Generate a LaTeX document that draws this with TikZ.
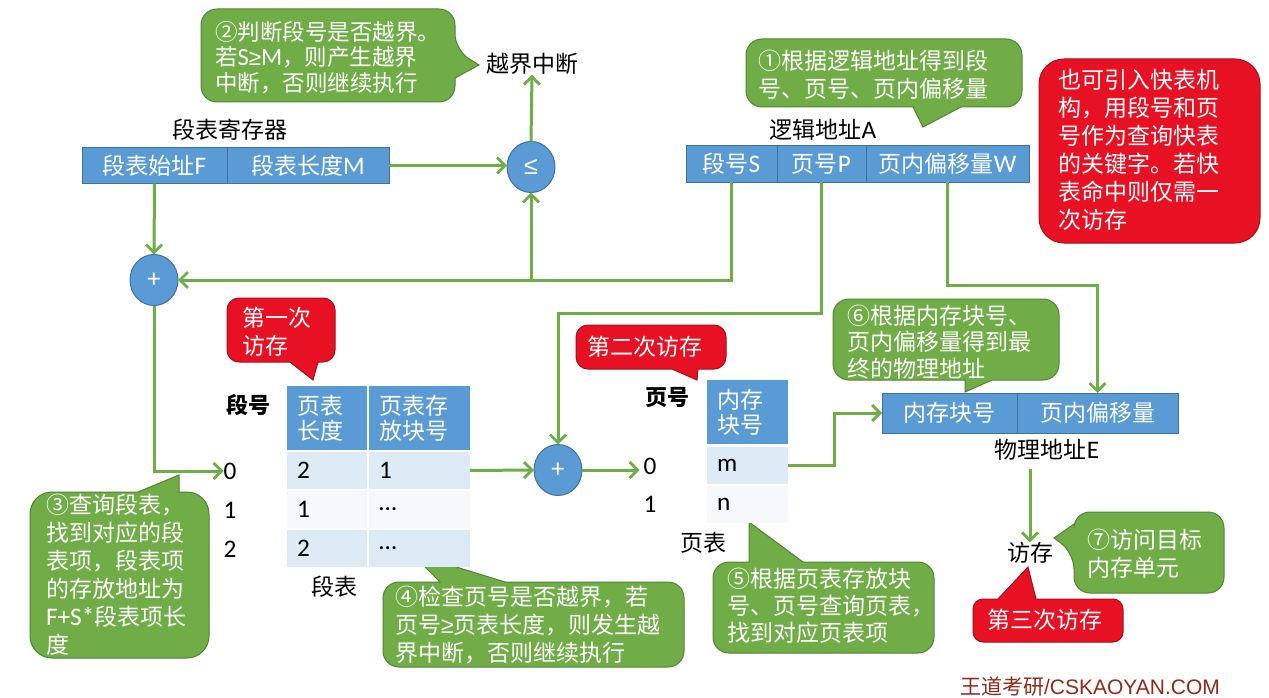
\documentclass[tikz,border=0pt]{standalone}
\usepackage{fontspec}
\setmainfont{Noto Sans CJK SC}
\newfontfamily\wmfont{Liberation Sans}
\newfontfamily\latf[Scale=1.1]{Carlito}
\newcommand\lat[1]{{\latf #1}}
\newcommand\gesym{{\wmfont ≥}}
\usetikzlibrary{arrows.meta,shapes.geometric,calc}
\definecolor{bluef}{HTML}{5B9BD5}
\definecolor{blueb}{HTML}{41719C}
\definecolor{greenf}{HTML}{70AD47}
\definecolor{greenb}{HTML}{548235}
\definecolor{redf}{HTML}{E81123}
\definecolor{redb}{HTML}{A50E1A}
\definecolor{rowa}{HTML}{DDEBF7}
\definecolor{rowb}{HTML}{F5F9FD}
\definecolor{arrg}{HTML}{70AD47}
\definecolor{wmc}{HTML}{8E2B1B}
\newcommand\fsz[2]{\fontsize{#1}{#2}\selectfont}
\begin{document}
\begin{tikzpicture}[x=1pt,y=-1pt,
  every node/.style={inner sep=0pt,outer sep=0pt},
  regbox/.style={draw=blueb,fill=bluef,line width=1,text=white,minimum height=36,font=\fsz{23}{28}},
  opnode/.style={ellipse,draw=blueb,fill=bluef,line width=1,text=white,minimum width=48,minimum height=51,font=\fsz{24}{24}\latf},
  conn/.style={draw=arrg,line width=3,-{Straight Barb[length=8,width=16,line width=2.8]}},
  lbl/.style={text=black,font=\fsz{23}{28}},
  blbl/.style={text=black,font=\fsz{22}{28}\bfseries},
  cellh/.style={fill=bluef,text=white,align=left,inner xsep=10pt,font=\fsz{23}{25}},
  cella/.style={fill=rowa,text=black,align=left,inner xsep=10pt,font=\fsz{23}{25}\latf},
  cellb/.style={fill=rowb,text=black,align=left,inner xsep=10pt,font=\fsz{23}{25}\latf},
  gcall/.style={fill=greenf,draw=greenb,line width=1},
  rcall/.style={fill=redf,draw=redb,line width=1},
  ctext/.style={text=white,align=left,anchor=west,font=\fsz{23}{28}}
]
\useasboundingbox (0,0) rectangle (1269,698);
\fill[white] (0,0) rectangle (1269,698);

% ---------- callout shapes ----------
% (2)
\path[gcall,rounded corners=16] (201,9) -- (455,9) -- (455,50) [sharp corners] -- (479,65) -- (455,78) [rounded corners=16] -- (455,102) -- (201,102) -- cycle;
% (1)
\path[gcall,rounded corners=16] (746,39) -- (1022,39) -- (1022,107) [sharp corners] -- (961,107) -- (923,127) -- (913,107) [rounded corners=16] -- (746,107) -- cycle;
% red note
\path[rcall,rounded corners=25] (1039,59) rectangle (1260,243);
% first access
\path[rcall,rounded corners=12] (227,298) -- (335,298) -- (335,362) [sharp corners] -- (318,362) -- (313,380) -- (290,362) [rounded corners=12] -- (227,362) -- cycle;
% second access
\path[rcall,rounded corners=12] (576,325) -- (726,325) -- (726,369) [sharp corners] -- (698,369) -- (697,380) -- (672,369) [rounded corners=12] -- (576,369) -- cycle;
% (6)
\path[gcall,rounded corners=16] (833,299) -- (1059,299) -- (1059,380) [sharp corners] -- (992,380) -- (965,392) -- (965,380) [rounded corners=16] -- (833,380) -- cycle;
% (3)
\path[gcall,rounded corners=22] (30,658) -- (30,492) [sharp corners] -- (138,492) -- (179,475) -- (179,492) [rounded corners=22] -- (209,492) -- (209,658) -- cycle;
% (4)
\path[gcall,rounded corners=16] (383,667) -- (383,582) [sharp corners] -- (440,582) -- (411,553) -- (505,582) [rounded corners=16] -- (684,582) -- (684,667) -- cycle;
% (5)
\path[gcall,rounded corners=16] (713,653) -- (713,562) [sharp corners] -- (749,562) -- (749,522) -- (803,562) [rounded corners=16] -- (934,562) -- (934,653) -- cycle;
% (7)
\path[gcall,rounded corners=16] (1074,512) -- (1224,512) -- (1224,593) -- (1074,593) -- (1074,553) [sharp corners] -- (1054,538) -- (1074,524) [rounded corners=16] -- cycle;
% third access
\path[rcall,rounded corners=10] (973,642) -- (973,599) [sharp corners] -- (998,599) -- (1028,567) -- (1036,599) [rounded corners=10] -- (1123,599) -- (1123,642) -- cycle;

% ---------- callout texts ----------
\node[ctext,font=\fsz{22.5}{25.5}] (c2) at (215,57.5) {②判断段号是否越界。\\若\lat{S}\gesym\lat{M}，则产生越界\\中断，否则继续执行};
\node[ctext] (c1) at (758,75) {①根据逻辑地址得到段\\号、页号、页内偏移量};
\node[ctext] (note) at (1058,150) {也可引入快表机\\构，用段号和页\\号作为查询快表\\的关键字。若快\\表命中则仅需一\\次访存};
\node[ctext] (k1) at (242,331.5) {第一次\\访存};
\node[ctext] (k2) at (587,347) {第二次访存};
\node[ctext,font=\fsz{23}{26.5}] (c6) at (847,342) {⑥根据内存块号、\\页内偏移量得到最\\终的物理地址};
\node[ctext] (c3) at (46,575) {③查询段表，\\找到对应的段\\表项，段表项\\的存放地址为\\\lat{F+S*}段表项长\\度};
\node[ctext] (c4) at (395,625) {④检查页号是否越界，若\\页号\gesym 页表长度，则发生越\\界中断，否则继续执行};
\node[ctext,font=\fsz{23}{27}] (c5) at (727,606) {⑤根据页表存放块\\号、页号查询页表，\\找到对应页表项};
\node[ctext] (c7) at (1087,553.5) {⑦访问目标\\内存单元};
\node[ctext] (k3) at (987,620) {第三次访存};

% ---------- segment table register ----------
\node[lbl] (reglbl) at (230,130) {段表寄存器};
\node[regbox,minimum width=145] (regF) at (154.5,165.5) {段表始址\lat{F}};
\node[regbox,minimum width=162] (regM) at (308,165.5) {段表长度\lat{M}};
\node[opnode,font=\fsz{25}{26}\wmfont] (le) at (531,167) {≤};
\node[lbl] (intr) at (532,64) {越界中断};

% ---------- logical address ----------
\node[lbl] (lalbl) at (823,130) {逻辑地址\lat{A}};
\node[regbox,minimum width=91] (laS) at (731.5,164) {段号\lat{S}};
\node[regbox,minimum width=89] (laP) at (821.5,164) {页号\lat{P}};
\node[regbox,minimum width=163] (laW) at (947.5,164) {页内偏移量\lat{W}};

% ---------- adders ----------
\node[opnode] (plus1) at (154,280) {+};
\node[opnode] (plus2) at (558,470) {+};

% ---------- segment table ----------
\node[blbl] (segno) at (248,405) {段号};
\node[cellh,text width=60,minimum height=64] (h1) at (327,418) {页表\\长度};
\node[cellh,text width=81,minimum height=64] (h2) at (419.5,418) {页表存\\放块号};
\node[cella,text width=60,minimum height=37] (r0a) at (327,470.5) {2};
\node[cella,text width=81,minimum height=37] (r0b) at (419.5,470.5) {1};
\node[cellb,text width=60,minimum height=37] (r1a) at (327,509.5) {1};
\node[cellb,text width=81,minimum height=37] (r1b) at (419.5,509.5) {…};
\node[cella,text width=60,minimum height=37] (r2a) at (327,548.5) {2};
\node[cella,text width=81,minimum height=37] (r2b) at (419.5,548.5) {…};
\node[lbl,font=\fsz{23}{28}\latf] (s0) at (230,471) {0};
\node[lbl,font=\fsz{23}{28}\latf] (s1) at (230,510) {1};
\node[lbl,font=\fsz{23}{28}\latf] (s2) at (230,549) {2};
\node[lbl] (segcap) at (334,587) {段表};

% ---------- page table ----------
\node[blbl] (pageno) at (667,398) {页号};
\node[cellh,text width=61,minimum height=64] (ph) at (747.5,412) {内存\\块号};
\node[cella,text width=61,minimum height=37] (pm) at (747.5,465.5) {m};
\node[cellb,text width=61,minimum height=37] (pn) at (747.5,504.5) {n};
\node[lbl,font=\fsz{23}{28}\latf] (p0) at (650,466) {0};
\node[lbl,font=\fsz{23}{28}\latf] (p1) at (650,504) {1};
\node[lbl] (pagecap) at (703,543) {页表};

% ---------- physical address ----------
\node[regbox,minimum width=135,minimum height=40] (pa1) at (949.5,413) {内存块号};
\node[regbox,minimum width=161,minimum height=40] (pa2) at (1097.5,413) {页内偏移量};
\node[lbl] (pacap) at (1047,450) {物理地址\lat{E}};
\node[lbl] (acc) at (1030,553) {访存};

% ---------- connectors ----------
\draw[conn] (regM.east) -- (regM.east -| le.west);
\draw[conn] (le.north) -- (intr.south);
\draw[conn] (regF.south) -- (plus1.north);
\draw[conn] (laS.south) |- (plus1.east);
\coordinate (j1) at (le.south |- plus1.east);
\draw[conn] (j1) -- (le.south);
\draw[conn] (plus1.south) |- (s0.west);
\draw[conn] (r0b.east) -- (plus2.west);
\draw[conn] (laP.south) -- ++(0,131) -| (plus2.north);
\draw[conn] (plus2.east) -- ($(plus2.east -| p0.west)+(-4,0)$);
\draw[conn] (pm.east) -- ++(46,0) |- (pa1.west);
\draw[conn] (laW.south) -- ++(0,103) -| (pa2.north);
\draw[conn] (pacap.south -| acc.north) ++(0,8) -- (acc.north);

% ---------- watermark ----------
\node[text=wmc,font=\fsz{21}{24}] (wm) at (1090,687) {王道考研{\wmfont /CSKAOYAN.COM}};
\end{tikzpicture}
\end{document}
